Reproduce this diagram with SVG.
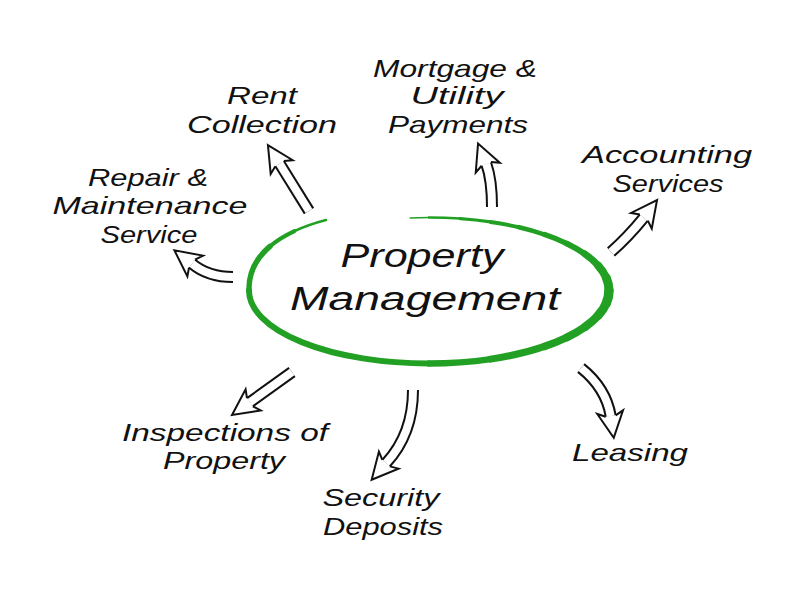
<svg xmlns="http://www.w3.org/2000/svg" xmlns:xlink="http://www.w3.org/1999/xlink" width="807" height="590" viewBox="0 0 807 590">
<style>
.lbl{font-family:"Liberation Sans","DejaVu Sans",sans-serif;font-style:italic;font-size:24px;fill:#111;text-anchor:middle}
.title{font-size:33px}
.so{fill:none;stroke:#111;stroke-width:12}
.si{fill:none;stroke:#fff;stroke-width:8}
.head{fill:#fff;stroke:#111;stroke-width:2;stroke-linejoin:miter}
.ring{fill:none;stroke:#22a024;stroke-linecap:round}
</style>
<defs>
<path id="ah" d="M0,-5 L-4,-13 L22,0 L-4,13 L0,5"/>
</defs>
<rect width="807" height="590" fill="#fff"/>
<g id="connectors">
<path class="so" d="M309,211 L279.6,163.7"/><path class="si" d="M309,211 L279.6,163.7"/>
<use xlink:href="#ah" class="head" transform="translate(279.6,163.7) rotate(-122)"/>
<path class="so" d="M492,207 Q492,180 486.3,163.9"/><path class="si" d="M492,207 Q492,180 486.3,163.9"/>
<use xlink:href="#ah" class="head" transform="translate(486.3,163.9) rotate(-112)"/>
<path class="so" d="M611,252 Q628,237 643.8,217.6"/><path class="si" d="M611,252 Q628,237 643.8,217.6"/>
<use xlink:href="#ah" class="head" transform="translate(643.8,217.6) rotate(-53)"/>
<path class="so" d="M233,277 Q208,277 192,263.6"/><path class="si" d="M233,277 Q208,277 192,263.6"/>
<use xlink:href="#ah" class="head" transform="translate(192,263.6) rotate(-143)"/>
<path class="so" d="M292,372 L249.9,402.2"/><path class="si" d="M292,372 L249.9,402.2"/>
<use xlink:href="#ah" class="head" transform="translate(249.9,402.2) rotate(144.4)"/>
<path class="so" d="M413,390 C413,425 401,447 386.1,463.1"/><path class="si" d="M413,390 C413,425 401,447 386.1,463.1"/>
<use xlink:href="#ah" class="head" transform="translate(386.1,463.1) rotate(131)"/>
<path class="so" d="M581,368 Q606,388 610.7,416.1"/><path class="si" d="M581,368 Q606,388 610.7,416.1"/>
<use xlink:href="#ah" class="head" transform="translate(610.7,416.1) rotate(82)"/>
</g>
<g id="node-center">
<path class="ring" stroke-width="1.5" d="M410.2,217.9 A180,73 0 0 1 429,217.5"/>
<path class="ring" stroke-width="2.5" d="M429,217.5 A180,73 0 0 1 460.2,218.6"/>
<path class="ring" stroke-width="3.2" d="M460.2,218.6 A180,73 0 0 1 490.6,221.9"/>
<path class="ring" stroke-width="4" d="M490.6,221.9 A180,73 0 0 1 519,227.3"/>
<path class="ring" stroke-width="4.6" d="M519,227.3 A180,73 0 0 1 544.7,234.6"/>
<path class="ring" stroke-width="5.3" d="M544.7,234.6 A180,73 0 0 1 566.9,243.6"/>
<path class="ring" stroke-width="6" d="M566.9,243.6 A180,73 0 0 1 584.9,254"/>
<path class="ring" stroke-width="7" d="M584.9,254 A180,73 0 0 1 598.1,265.5"/>
<path class="ring" stroke-width="8" d="M598.1,265.5 A180,73 0 0 1 606.3,277.8"/>
<path class="ring" stroke-width="9" d="M606.3,277.8 A180,73 0 0 1 609,290.5"/>
<path class="ring" stroke-width="9.5" d="M609,290.5 A180,73 0 0 1 606.3,303.2"/>
<path class="ring" stroke-width="9" d="M606.3,303.2 A180,73 0 0 1 598.1,315.5"/>
<path class="ring" stroke-width="8.5" d="M598.1,315.5 A180,73 0 0 1 584.9,327"/>
<path class="ring" stroke-width="8" d="M584.9,327 A180,73 0 0 1 566.9,337.4"/>
<path class="ring" stroke-width="7.5" d="M566.9,337.4 A180,73 0 0 1 544.7,346.4"/>
<path class="ring" stroke-width="7" d="M544.7,346.4 A180,73 0 0 1 490.6,359.1"/>
<path class="ring" stroke-width="6.5" d="M490.6,359.1 A180,73 0 0 1 429,363.5"/>
<path class="ring" stroke-width="6" d="M429,363.5 A180,73 0 0 1 249,290.5"/>
<path class="ring" stroke-width="5.5" d="M249,290.5 C248.5,272.75 256.25,258.1 269.9,246.4"/>
<path class="ring" stroke-width="4" d="M269.9,246.4 C276.7,240.6 285,235.5 294.4,231.1"/>
<path class="ring" stroke-width="2.5" d="M294.4,231.1 C303.9,226.7 314.5,223 326,220"/>
<text class="lbl title" x="422" y="267" textLength="163" lengthAdjust="spacingAndGlyphs">Property</text>
<text class="lbl title" x="425" y="310" textLength="270" lengthAdjust="spacingAndGlyphs">Management</text>
</g>
<g id="node-rent">
<text class="lbl" x="262" y="104" textLength="70" lengthAdjust="spacingAndGlyphs">Rent</text>
<text class="lbl" x="262" y="133" textLength="150" lengthAdjust="spacingAndGlyphs">Collection</text>
</g>
<g id="node-repair">
<text class="lbl" x="148" y="186" textLength="120" lengthAdjust="spacingAndGlyphs">Repair &amp;</text>
<text class="lbl" x="150" y="214" textLength="195" lengthAdjust="spacingAndGlyphs">Maintenance</text>
<text class="lbl" x="149" y="243" textLength="97" lengthAdjust="spacingAndGlyphs">Service</text>
</g>
<g id="node-mortgage">
<text class="lbl" x="455" y="77" textLength="164" lengthAdjust="spacingAndGlyphs">Mortgage &amp;</text>
<text class="lbl" x="457" y="104" textLength="93" lengthAdjust="spacingAndGlyphs">Utility</text>
<text class="lbl" x="458" y="133" textLength="140" lengthAdjust="spacingAndGlyphs">Payments</text>
</g>
<g id="node-accounting">
<text class="lbl" x="667" y="163" textLength="170" lengthAdjust="spacingAndGlyphs">Accounting</text>
<text class="lbl" x="668" y="192" textLength="111" lengthAdjust="spacingAndGlyphs">Services</text>
</g>
<g id="node-inspections">
<text class="lbl" x="225" y="441" textLength="206" lengthAdjust="spacingAndGlyphs">Inspections of</text>
<text class="lbl" x="224" y="469" textLength="122" lengthAdjust="spacingAndGlyphs">Property</text>
</g>
<g id="node-security">
<text class="lbl" x="381" y="506" textLength="117" lengthAdjust="spacingAndGlyphs">Security</text>
<text class="lbl" x="383" y="535" textLength="120" lengthAdjust="spacingAndGlyphs">Deposits</text>
</g>
<g id="node-leasing">
<text class="lbl" x="630" y="461" textLength="116" lengthAdjust="spacingAndGlyphs">Leasing</text>
</g>
</svg>
